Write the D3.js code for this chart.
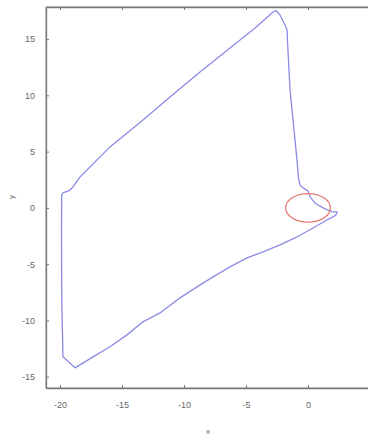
<!DOCTYPE html>
<html>
<head>
<meta charset="utf-8">
<script src="https://cdn.jsdelivr.net/npm/d3@7"></script>
<style>
  html, body { margin: 0; padding: 0; background: #fff; overflow: hidden; }
  svg { display: block; font-family: "Liberation Sans", Arial, sans-serif; }
</style>
</head>
<body>
<div id="chart"></div>
<script>
// trajectory
var trackX = [-2.58, -2.26, -1.85, -1.69, -1.64, -1.45, -1.13, -0.89, -0.77, -0.65, -0.40, 0.00, 0.16, 0.56, 1.21, 1.94, 2.34, 2.26, 2.02,
              1.53, 0.40, -0.89, -2.26, -3.63, -4.92, -6.29, -7.66, -8.95, -10.32, -11.94, -13.31, -14.60, -15.97, -17.34, -18.79,
              -19.76, -19.86, -19.88, -19.86, -19.73, -19.25, -18.95, -18.39, -15.97, -13.31, -11.13, -8.71, -6.29, -4.27, -2.82, -2.58];
var trackY = [17.54, 17.14, 16.25, 15.81, 14.48, 10.48, 6.93, 4.26, 2.66, 2.04, 1.78, 1.51, 0.98, 0.44, 0.00, -0.36, -0.36, -0.62, -0.80,
              -1.07, -1.78, -2.58, -3.29, -3.91, -4.44, -5.24, -6.13, -7.02, -7.99, -9.33, -10.12, -11.28, -12.34, -13.23, -14.21,
              -13.23, -8.17, -1.95, 1.15, 1.36, 1.54, 1.86, 2.75, 5.42, 7.82, 9.86, 12.08, 14.21, 15.99, 17.41, 17.54];

// target ellipse: centre and radii
var target = [0, 0];
var targetRadius = [1.8, 1.27];

var xTicks = [-20, -15, -10, -5, 0, 5];
var yTicks = [-15, -10, -5, 0, 5, 10, 15];

var width = 368, height = 437;
var margin = {top: 7, left: 46, bottom: 49};

var x = d3.scaleLinear().domain([-21.13, 6]).range([margin.left, margin.left + 12.4 * 27.13]);
var y = d3.scaleLinear().domain([-16, 17.85]).range([height - margin.bottom, margin.top]);

var svg = d3.select("#chart").append("svg")
    .attr("width", width).attr("height", height);

var fmt = function(d) { return String(d); };

// frame
svg.append("rect")
    .attr("x", x.range()[0]).attr("y", y.range()[1])
    .attr("width", x.range()[1] - x.range()[0])
    .attr("height", y.range()[0] - y.range()[1])
    .attr("fill", "none").attr("stroke", "#999").attr("stroke-width", 1);

var bottomAxis = svg.append("g")
    .attr("transform", "translate(0," + y.range()[0] + ")")
    .call(d3.axisBottom(x).tickValues(xTicks).tickFormat(fmt).tickSizeInner(-3).tickSizeOuter(0).tickPadding(14));
var topAxis = svg.append("g")
    .attr("transform", "translate(0," + y.range()[1] + ")")
    .call(d3.axisTop(x).tickValues(xTicks).tickFormat("").tickSizeInner(-3).tickSizeOuter(0));
var leftAxis = svg.append("g")
    .attr("transform", "translate(" + x.range()[0] + ",0)")
    .call(d3.axisLeft(y).tickValues(yTicks).tickFormat(fmt).tickSizeInner(-3).tickSizeOuter(0).tickPadding(11));

[bottomAxis, topAxis, leftAxis].forEach(function(g) {
    g.select(".domain").attr("stroke", "#777").attr("stroke-width", 1.3);
    g.selectAll(".tick line").attr("stroke", "#777");
    g.selectAll(".tick text").attr("fill", "#666").style("font-size", "9px");
});

svg.append("text")
    .attr("x", 208).attr("y", 434)
    .attr("text-anchor", "middle").attr("fill", "#666")
    .style("font-size", "8px").text("x");
svg.append("text")
    .attr("transform", "translate(14,197) rotate(-90)")
    .attr("text-anchor", "middle").attr("fill", "#666")
    .style("font-size", "8px").text("y");

var line = d3.line()
    .x(function(d, i) { return x(trackX[i]); })
    .y(function(d, i) { return y(trackY[i]); });

svg.append("path")
    .datum(trackX)
    .attr("d", line)
    .attr("fill", "none")
    .attr("stroke", "#8c8ce6")
    .attr("stroke-width", 1.3)
    .attr("stroke-linejoin", "round");

svg.append("ellipse")
    .attr("cx", x(target[0])).attr("cy", y(target[1]))
    .attr("rx", x(targetRadius[0]) - x(0))
    .attr("ry", y(0) - y(targetRadius[1]))
    .attr("fill", "none")
    .attr("stroke", "#e47a70")
    .attr("stroke-width", 1.3);
</script>
</body>
</html>
